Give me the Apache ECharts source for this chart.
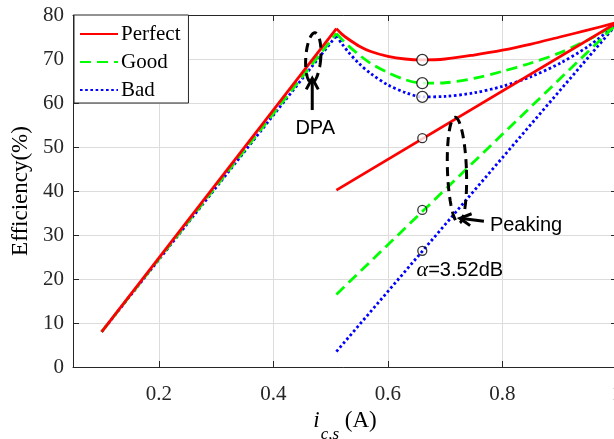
<!DOCTYPE html>
<html><head><meta charset="utf-8">
<script src="https://cdn.jsdelivr.net/npm/echarts@6/dist/echarts.min.js"></script>
<style>html,body{margin:0;padding:0;background:#fff}#c{width:614px;height:439px}</style>
</head><body><div id="c"></div>
<script>
// ---- data ----
const riseX = [0.1, 0.51];
const perfectRise = [8, 76.9];
const goodRise = [8, 75.8];
const badRise = [8, 75.3];

const upperX = [0.51, 0.52, 0.53, 0.55, 0.57, 0.60, 0.63, 0.66, 0.70, 0.75, 0.80, 0.85, 0.90, 0.95, 1.00];
const perfectUpper = [76.9, 75.6, 74.6, 72.9, 71.7, 70.6, 70.0, 69.8, 70.0, 70.9, 72.0, 73.4, 75.0, 76.6, 78.3];
const goodUpper    = [75.8, 74.4, 73.1, 70.9, 69.0, 66.9, 65.3, 64.5, 64.6, 65.6, 67.2, 69.1, 71.4, 74.4, 78.0];
const badUpper     = [75.3, 73.4, 71.7, 68.9, 66.7, 64.1, 62.4, 61.4, 61.5, 62.3, 63.8, 66.0, 69.0, 72.9, 78.0];

const peakX = [0.51, 1.0];
const perfectPeak = [40.2, 78.3];
const goodPeak = [16.5, 78.0];
const badPeak = [3.5, 78.0];

const markX = 0.66;
const markUpper = [69.8, 64.5, 61.4];
const markLower = [52.0, 35.7, 26.4];

const xTickValues = [0.2, 0.4, 0.6, 0.8, 1.0];
const legendNames = ['Perfect', 'Good', 'Bad'];

// ---- styles ----
const SERIF = '"Liberation Serif","Times New Roman",serif';
const SANS = '"Liberation Sans",Arial,sans-serif';
const AX = '#262626';
const colors = {Perfect: '#ff0000', Good: '#00ff00', Bad: '#0000ff'};
const dashes = {Perfect: 'solid', Good: [11, 6], Bad: [2.6, 2.6]};

const zip = (xs, ys) => xs.map((x, i) => [x, ys[i]]);

const groups = [
  ['Perfect', perfectRise, perfectUpper, perfectPeak],
  ['Good', goodRise, goodUpper, goodPeak],
  ['Bad', badRise, badUpper, badPeak]
];

const series = [];
groups.forEach(([name, rise, upper, peak], gi) => {
  const ls = {color: colors[name], width: 2.8, type: dashes[name], cap: 'butt'};
  const base = {type: 'line', name, showSymbol: false, symbol: 'none', lineStyle: ls,
    itemStyle: {color: colors[name]}, z: 5 - gi, animation: false, silent: true};
  series.push(Object.assign({}, base, {data: zip(riseX, rise)}));
  series.push(Object.assign({}, base, {data: zip(upperX, upper), smooth: 0.3}));
  series.push(Object.assign({}, base, {data: zip(peakX, peak)}));
});
series.push({
  type: 'scatter', symbol: 'circle', symbolSize: 11, z: 10, animation: false, silent: true,
  itemStyle: {color: '#fff', borderColor: '#000', borderWidth: 1.3},
  data: markUpper.map(v => [markX, v])
});
series.push({
  type: 'scatter', symbol: 'circle', symbolSize: 9, z: 10, animation: false, silent: true,
  itemStyle: {color: 'rgba(255,255,255,0)', borderColor: '#000', borderWidth: 1.3},
  data: markLower.map((v, i) => ({value: [markX, v], itemStyle: i === 0 ? {color: '#fff'} : {}}))
});

const chart = echarts.init(document.getElementById('c'), null, {renderer: 'canvas'});

const fmtX = v => {
  const r = Math.round(v * 10) / 10;
  if (Math.abs(v - r) > 1e-6 || Math.round(r * 10) % 2 !== 0) return '';
  return r === 1 ? '1' : r.toFixed(1);
};

chart.setOption({
  animation: false,
  backgroundColor: '#fff',
  grid: {left: 73, top: 15, right: -3, bottom: 72, containLabel: false, outerBoundsMode: 'none'},
  legend: {
    data: legendNames, orient: 'vertical', left: 74, top: 15,
    backgroundColor: '#fff', borderColor: AX, borderWidth: 1, borderRadius: 0,
    padding: [8, 8, 2, 5], itemGap: 6, itemWidth: 38, itemHeight: 14,
    itemStyle: {color: 'rgba(0,0,0,0)', borderColor: 'rgba(0,0,0,0)', borderWidth: 0, opacity: 0},
    textStyle: {fontFamily: SERIF, fontSize: 21, color: '#000', lineHeight: 22, padding: [0, 0, 0, -2]},
    selectedMode: false, z: 20
  },
  xAxis: [{
    type: 'value', min: 0.05, max: 1.0, interval: 0.2, position: 'bottom',
    name: '{i|i}{s|c,s}{n| (A)}', nameLocation: 'middle', nameGap: 32,
    nameTextStyle: {color: '#000', rich: {
      i: {fontFamily: SERIF, fontStyle: 'italic', fontSize: 23, color: '#000'},
      s: {fontFamily: SERIF, fontStyle: 'italic', fontSize: 17, color: '#000', padding: [27, 0, 0, 1]},
      n: {fontFamily: SERIF, fontSize: 23, color: '#000'}
    }},
    axisLine: {show: true, onZero: false, lineStyle: {color: AX, width: 1}},
    axisTick: {show: true, inside: true, length: 6, customValues: xTickValues, lineStyle: {color: AX}},
    axisLabel: {show: true, customValues: xTickValues, formatter: fmtX, margin: 17, fontFamily: SERIF, fontSize: 21, color: '#262626'},
    splitLine: {show: true, lineStyle: {color: '#dcdcdc', width: 1}}
  }, {
    type: 'value', min: 0.05, max: 1.0, interval: 0.2, position: 'top',
    axisLine: {show: true, onZero: false, lineStyle: {color: AX, width: 1}},
    axisTick: {show: true, inside: true, length: 6, customValues: xTickValues, lineStyle: {color: AX}},
    axisLabel: {show: false}, splitLine: {show: false}
  }],
  yAxis: [{
    type: 'value', min: 0, max: 80, interval: 10, position: 'left',
    name: 'Efficiency(%)', nameLocation: 'middle', nameGap: 36, nameRotate: 90,
    nameTextStyle: {fontFamily: SERIF, fontSize: 23, color: '#000'},
    axisLine: {show: true, onZero: false, lineStyle: {color: AX, width: 1}},
    axisTick: {show: true, inside: true, length: 6, lineStyle: {color: AX}},
    axisLabel: {margin: 9, fontFamily: SERIF, fontSize: 21, color: '#262626'},
    splitLine: {show: true, lineStyle: {color: '#dcdcdc', width: 1}}
  }, {
    type: 'value', min: 0, max: 80, interval: 10, position: 'right',
    axisLine: {show: true, onZero: false, lineStyle: {color: AX, width: 1}},
    axisTick: {show: true, inside: true, length: 6, lineStyle: {color: AX}},
    axisLabel: {show: false}, splitLine: {show: false}
  }],
  series
});

// ---- annotations (anchored in data coordinates) ----
const px = p => chart.convertToPixel({gridIndex: 0}, p);
function ellipse(center, rx, ry, rotDeg) {
  const c = px(center), pts = [], r = rotDeg * Math.PI / 180;
  for (let k = 0; k < 72; k++) {
    const t = k / 72 * Math.PI * 2;
    const ex = rx * Math.cos(t), ey = ry * Math.sin(t);
    pts.push([c[0] + ex * Math.cos(r) - ey * Math.sin(r), c[1] + ex * Math.sin(r) + ey * Math.cos(r)]);
  }
  return {type: 'polygon', shape: {points: pts}, z: 30,
    style: {fill: 'none', stroke: '#000', lineWidth: 3, lineDash: [9, 6]}};
}
function arrow(from, to) {
  const a = px(from), b = px(to);
  const dx = b[0] - a[0], dy = b[1] - a[1], L = Math.hypot(dx, dy);
  const ux = dx / L, uy = dy / L, hl = 11, hw = 6;
  const bx = b[0] - ux * hl, by = b[1] - uy * hl;
  return [
    {type: 'line', z: 30, shape: {x1: a[0], y1: a[1], x2: b[0] - ux * 2, y2: b[1] - uy * 2}, style: {stroke: '#000', lineWidth: 3}},
    {type: 'polyline', z: 30, shape: {points: [[bx - uy * hw, by + ux * hw], [b[0], b[1]], [bx + uy * hw, by - ux * hw]]},
      style: {stroke: '#000', lineWidth: 3, fill: 'none', lineJoin: 'miter'}}
  ];
}
function label(pos, text, align, extra) {
  const p = px(pos);
  return Object.assign({type: 'text', x: p[0], y: p[1], z: 30,
    style: Object.assign({text, fill: '#000', font: '20px ' + SANS, align, verticalAlign: 'middle'}, extra || {})});
}

const graphics = [
  ellipse([0.4696, 70.3], 7.5, 25, 4),
  ...arrow([0.4678, 58.4], [0.4678, 65.6]),
  label([0.473, 54.3], 'DPA', 'center'),
  ellipse([0.7205, 44.7], 9.5, 53, -2),
  ...arrow([0.7676, 33.1], [0.7257, 33.8]),
  label([0.778, 32.2], 'Peaking', 'left'),
  label([0.65, 22.0], '{a|α}{b|=3.52dB}', 'left', {rich: {
    a: {fontFamily: SERIF, fontStyle: 'italic', fontSize: 22, fill: '#000'},
    b: {fontFamily: SANS, fontSize: 20, fill: '#000'}
  }})
];
chart.setOption({graphic: graphics});
</script>
</body></html>
